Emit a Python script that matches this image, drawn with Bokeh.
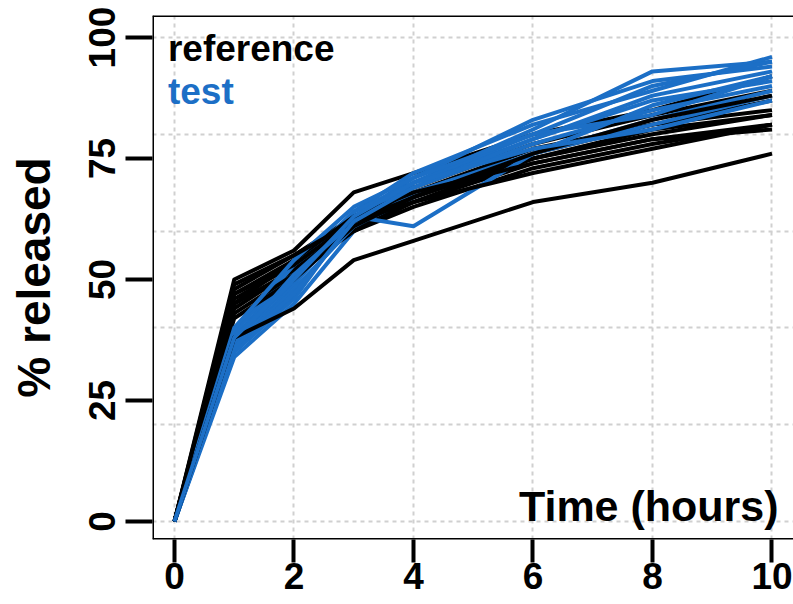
from bokeh.plotting import figure
from bokeh.models import LinearAxis, FixedTicker, Range1d, Label, Span, Grid
from bokeh.embed import file_html
from bokeh.resources import INLINE

# ---- data ----
time_h = [0, 1, 2, 3, 4, 6, 8, 10]

reference = [
    [0, 50, 56, 68, 72, 80, 85, 92],
    [0, 48, 55, 63, 69, 78, 84, 89],
    [0, 47, 54, 62, 68, 77, 82, 87],
    [0, 46, 53, 61, 67, 76, 82, 85],
    [0, 45, 52, 60, 66, 75, 80, 84],
    [0, 44, 52, 61, 66, 74, 79, 82],
    [0, 43, 51, 60, 65, 73, 78, 82],
    [0, 47, 53, 62, 67, 75, 81, 84],
    [0, 42, 50, 61, 67, 76, 83, 88],
    [0, 45, 54, 63, 68, 74, 79, 81],
    [0, 49, 55, 62, 66, 72, 77, 82],
    [0, 38, 44, 54, 58, 66, 70, 76],
]

test = [
    [0, 35, 47, 62, 70, 81, 93, 95],
    [0, 36, 49, 63, 71, 83, 91, 94],
    [0, 37, 50, 64, 72, 82, 89, 96],
    [0, 34, 45, 60, 68, 76, 86, 92],
    [0, 38, 52, 64, 70, 79, 87, 91],
    [0, 39, 53, 63, 69, 78, 85, 90],
    [0, 36, 48, 61, 67, 76, 82, 88],
    [0, 35, 46, 63, 61, 76, 83, 89],
    [0, 37, 51, 62, 70, 80, 90, 95],
    [0, 40, 54, 65, 71, 80, 84, 92],
    [0, 36, 47, 62, 69, 79, 88, 93],
    [0, 38, 50, 63, 70, 77, 81, 87],
]

x_ticks = [0, 2, 4, 6, 8, 10]
y_ticks = [0, 25, 50, 75, 100]
y_grid = [0, 20, 40, 60, 80, 100]

legend_labels = ["reference", "test"]
x_title = "Time (hours)"
y_title = "% released"

BLACK = "#000000"
BLUE = "#1C6FC6"
FONT = "Liberation Sans"

X0, X1 = -0.368, 10.36
Y0, Y1 = -3.72, 104.55

p = figure(width=793, height=604, output_backend="svg", toolbar_location=None,
           x_range=Range1d(X0, X1), y_range=Range1d(Y0, Y1),
           x_axis_location=None, y_axis_location=None,
           min_border_left=152, min_border_right=0, min_border_top=15,
           min_border_bottom=65, outline_line_color=None,
           background_fill_color="white", border_fill_color="white")

xaxis = LinearAxis(ticker=FixedTicker(ticks=x_ticks))
yaxis = LinearAxis(ticker=FixedTicker(ticks=y_ticks))
for ax in (xaxis, yaxis):
    ax.axis_line_color = None
    ax.major_tick_in = 0
    ax.major_tick_line_width = 4
    ax.major_tick_line_color = BLACK
    ax.minor_tick_line_color = None
    ax.major_label_text_font = FONT
    ax.major_label_text_font_style = "bold"
    ax.major_label_text_font_size = "37px"
    ax.major_label_text_color = BLACK
xaxis.major_tick_out = 23
xaxis.major_label_standoff = 0
yaxis.major_tick_out = 27
yaxis.major_label_standoff = 10
yaxis.major_label_orientation = "vertical"
yaxis.axis_label = y_title
yaxis.axis_label_text_font = FONT
yaxis.axis_label_text_font_style = "bold"
yaxis.axis_label_text_font_size = "46px"
yaxis.axis_label_text_color = BLACK
yaxis.axis_label_standoff = 27
p.add_layout(xaxis, "below")
p.add_layout(yaxis, "left")

# grid
p.xgrid.visible = False
p.ygrid.visible = False
gx = Grid(dimension=0, ticker=FixedTicker(ticks=x_ticks), grid_line_color="#D0D0D0",
          grid_line_width=2, grid_line_dash="4 4")
gy = Grid(dimension=1, ticker=FixedTicker(ticks=y_grid), grid_line_color="#D0D0D0",
          grid_line_width=2, grid_line_dash="4 4")
p.add_layout(gx)
p.add_layout(gy)

# lines
for r, t in zip(reference, test):
    p.line(time_h, r, line_color=BLACK, line_width=4, line_join="round")
    p.line(time_h, t, line_color=BLUE, line_width=4, line_join="round")

# frame (left, top, bottom)
for loc, dim in ((X0, "height"), (Y0, "width"), (Y1, "width")):
    p.add_layout(Span(location=loc, dimension=dim, line_color=BLACK, line_width=3))

# legend text
p.add_layout(Label(x=-0.11, y=97.7, text=legend_labels[0], text_font=FONT,
                   text_font_style="bold", text_font_size="37px", text_color=BLACK,
                   text_baseline="alphabetic", text_align="left"))
p.add_layout(Label(x=-0.11, y=88.8, text=legend_labels[1], text_font=FONT,
                   text_font_style="bold", text_font_size="37px", text_color=BLUE,
                   text_baseline="alphabetic", text_align="left"))
p.add_layout(Label(x=10.11, y=3.3, text=x_title, text_font=FONT,
                   text_font_style="bold", text_font_size="43px", text_color=BLACK,
                   text_baseline="alphabetic", text_align="right"))

open("out.html", "w").write(file_html(p, INLINE))
